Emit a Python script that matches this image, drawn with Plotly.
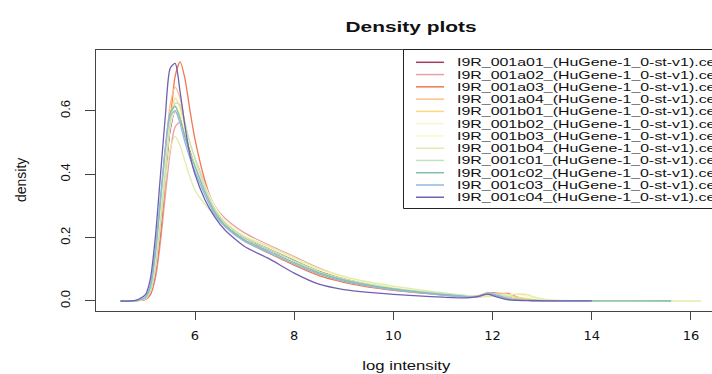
import plotly.graph_objects as go

# ---------------- data ----------------
x_grid = [4.5, 4.8, 5.0, 5.1, 5.2, 5.3, 5.4, 5.5, 5.6, 5.7, 5.8, 5.9, 6.0, 6.2, 6.4, 6.6,
          7.0, 7.5, 8.0, 8.5, 9.0, 9.5, 10.0, 10.5, 11.0, 11.5, 11.7, 11.9, 12.1, 12.3,
          12.5, 12.7, 12.9, 13.2, 14.0, 14.5, 15.0, 15.6, 16.2]

sample_names = [
    "I9R_001a01_(HuGene-1_0-st-v1).cel", "I9R_001a02_(HuGene-1_0-st-v1).cel",
    "I9R_001a03_(HuGene-1_0-st-v1).cel", "I9R_001a04_(HuGene-1_0-st-v1).cel",
    "I9R_001b01_(HuGene-1_0-st-v1).cel", "I9R_001b02_(HuGene-1_0-st-v1).cel",
    "I9R_001b03_(HuGene-1_0-st-v1).cel", "I9R_001b04_(HuGene-1_0-st-v1).cel",
    "I9R_001c01_(HuGene-1_0-st-v1).cel", "I9R_001c02_(HuGene-1_0-st-v1).cel",
    "I9R_001c03_(HuGene-1_0-st-v1).cel", "I9R_001c04_(HuGene-1_0-st-v1).cel",
]

N = None
d_a01 = [0, 0.001, 0.008, 0.03, 0.10, 0.24, 0.41, 0.54, 0.60, 0.585, 0.53, 0.48, 0.44, 0.36, 0.29, 0.25,
         0.20, 0.163, 0.128, 0.095, 0.07, 0.053, 0.04, 0.031, 0.023, 0.016, 0.015, 0.024, 0.024, 0.012,
         0.005, 0.003, 0.002, 0.001, 0.0003, 0.0001, 0, N, N]
d_a02 = [0, 0.0005, 0.005, 0.02, 0.07, 0.18, 0.33, 0.47, 0.55, 0.565, 0.53, 0.49, 0.45, 0.37, 0.30, 0.262,
         0.215, 0.176, 0.14, 0.104, 0.076, 0.056, 0.042, 0.032, 0.024, 0.017, 0.016, 0.026, 0.022, 0.010,
         0.005, 0.003, 0.002, 0.001, 0.0003, 0.0001, 0, N, N]
d_a03 = [0, 0.0005, 0.005, 0.02, 0.08, 0.20, 0.37, 0.56, 0.71, 0.755, 0.70, 0.60, 0.51, 0.38, 0.29, 0.242,
         0.19, 0.15, 0.113, 0.08, 0.059, 0.044, 0.034, 0.026, 0.019, 0.013, 0.012, 0.016, 0.022, 0.024,
         0.012, 0.004, 0.002, 0.001, 0.0003, 0, N, N, N]
d_a04 = [0, 0.001, 0.010, 0.04, 0.13, 0.29, 0.47, 0.62, 0.675, 0.64, 0.56, 0.49, 0.44, 0.355, 0.285, 0.24,
         0.19, 0.152, 0.117, 0.085, 0.063, 0.047, 0.036, 0.028, 0.020, 0.014, 0.013, 0.020, 0.025, 0.022,
         0.010, 0.004, 0.002, 0.001, 0.0003, 0, N, N, N]
d_b01 = [0, 0.001, 0.009, 0.035, 0.12, 0.27, 0.44, 0.58, 0.64, 0.61, 0.545, 0.49, 0.445, 0.365, 0.295, 0.252,
         0.205, 0.17, 0.133, 0.098, 0.074, 0.056, 0.043, 0.033, 0.024, 0.016, 0.014, 0.018, 0.020, 0.016,
         0.012, 0.008, 0.004, 0.002, 0.0005, 0.0002, 0, N, N]
d_b02 = [0, 0.001, 0.008, 0.032, 0.11, 0.255, 0.42, 0.56, 0.615, 0.595, 0.54, 0.49, 0.445, 0.365, 0.298, 0.255,
         0.208, 0.172, 0.136, 0.100, 0.076, 0.058, 0.045, 0.034, 0.025, 0.016, 0.013, 0.015, 0.018, 0.020,
         0.021, 0.015, 0.006, 0.002, 0.0005, 0.0002, 0, N, N]
d_b03 = [0, 0.001, 0.008, 0.03, 0.105, 0.245, 0.41, 0.55, 0.60, 0.585, 0.535, 0.485, 0.44, 0.36, 0.295, 0.253,
         0.206, 0.17, 0.134, 0.099, 0.075, 0.057, 0.044, 0.034, 0.025, 0.016, 0.013, 0.014, 0.016, 0.019,
         0.022, 0.020, 0.008, 0.003, 0.0005, 0.0002, 0.0001, N, N]
d_b04 = [0, 0.001, 0.010, 0.035, 0.11, 0.24, 0.38, 0.48, 0.52, 0.49, 0.44, 0.39, 0.35, 0.305, 0.27, 0.245,
         0.203, 0.172, 0.137, 0.102, 0.078, 0.060, 0.047, 0.036, 0.026, 0.017, 0.014, 0.014, 0.016, 0.019,
         0.022, 0.020, 0.010, 0.003, 0.0008, 0.0003, 0.0001, 0.00005, 0]
d_c01 = [0, 0.001, 0.008, 0.03, 0.10, 0.24, 0.41, 0.56, 0.625, 0.62, 0.56, 0.50, 0.45, 0.36, 0.29, 0.248,
         0.20, 0.163, 0.127, 0.093, 0.070, 0.053, 0.040, 0.031, 0.023, 0.015, 0.014, 0.022, 0.022, 0.012,
         0.005, 0.003, 0.002, 0.001, 0.0003, 0.0001, 0.00005, 0.00002, N]
d_c02 = [0, 0.001, 0.012, 0.045, 0.15, 0.31, 0.48, 0.595, 0.615, 0.575, 0.515, 0.465, 0.425, 0.345, 0.28, 0.24,
         0.193, 0.157, 0.121, 0.089, 0.066, 0.050, 0.038, 0.029, 0.021, 0.014, 0.014, 0.024, 0.018, 0.008,
         0.004, 0.002, 0.0015, 0.001, 0.0004, 0.0002, 0.0001, 0.00005, N]
d_c03 = [0, 0.001, 0.013, 0.05, 0.16, 0.32, 0.48, 0.585, 0.60, 0.56, 0.50, 0.45, 0.41, 0.335, 0.273, 0.235,
         0.188, 0.152, 0.116, 0.085, 0.062, 0.047, 0.035, 0.027, 0.019, 0.013, 0.014, 0.024, 0.016, 0.006,
         0.003, 0.002, 0.0012, 0.0008, 0.0003, N, N, N, N]
d_c04 = [0, 0.002, 0.02, 0.07, 0.20, 0.39, 0.58, 0.735, 0.75, 0.66, 0.55, 0.46, 0.40, 0.32, 0.265, 0.225,
         0.172, 0.133, 0.088, 0.053, 0.036, 0.027, 0.021, 0.016, 0.012, 0.010, 0.014, 0.022, 0.012, 0.004,
         0.002, 0.001, 0.0007, 0.0005, 0.0002, N, N, N, N]

densities = [d_a01, d_a02, d_a03, d_a04, d_b01, d_b02, d_b03, d_b04, d_c01, d_c02, d_c03, d_c04]

line_colors = ["#A0405E", "#E8A0A8", "#F07850", "#FDC08A", "#FDD880", "#FBF5C8",
               "#F8FCC8", "#E2EBAE", "#C2E3BD", "#80C0A8", "#90B8E0", "#7060B0"]

x_ticks = [6, 8, 10, 12, 14, 16]
y_ticks = [0.0, 0.2, 0.4, 0.6]
y_tick_text = ["0.0", "0.2", "0.4", "0.6"]

# ---------------- figure ----------------
W, H = 712, 374
L, R, T, B = 96, 0, 50, 63
PW, PH = W - L - R, H - T - B


def px(xp):
    return (xp - L) / PW


def py(yp):
    return (H - B - yp) / PH


fig = go.Figure()
for name, ys, col in zip(sample_names, densities, line_colors):
    fig.add_trace(go.Scatter(
        x=x_grid, y=ys, mode="lines", name=name, showlegend=False,
        line=dict(color=col, width=1.3, shape="spline", smoothing=0.7),
        connectgaps=False, hoverinfo="skip"))

FONT = "Liberation Sans"

shapes = [dict(type="rect", xref="paper", yref="paper",
               x0=px(403.5), x1=px(740), y0=py(49.5), y1=py(208.5),
               line=dict(color="#222", width=1), fillcolor="white", layer="above")]
annotations = []
for i, (name, col) in enumerate(zip(sample_names, line_colors)):
    yy = 62.3 + i * 12.27
    shapes.append(dict(type="line", xref="paper", yref="paper",
                       x0=px(416), x1=px(444), y0=py(yy), y1=py(yy),
                       line=dict(color=col, width=1.5), layer="above"))
    annotations.append(dict(text=name, xref="paper", yref="paper",
                            x=px(456), y=py(yy), xanchor="left", yanchor="middle",
                            align="left", showarrow=False, borderpad=0,
                            font=dict(family=FONT, size=10.5, color="#111")))

annotations.append(dict(text="log intensity", xref="paper", yref="paper",
                        x=px(406), y=py(365), xanchor="center", yanchor="middle",
                        showarrow=False, font=dict(family=FONT, size=13, color="#111")))
annotations.append(dict(text="density", xref="paper", yref="paper",
                        x=px(21), y=py(180), xanchor="center", yanchor="middle",
                        textangle=-90, showarrow=False,
                        font=dict(family=FONT, size=14, color="#111")))

fig.update_layout(
    width=W, height=H,
    margin=dict(l=L, r=R, t=T, b=B, pad=0),
    paper_bgcolor="white", plot_bgcolor="white",
    title=dict(text="<b>Density plots</b>", x=411 / W, xanchor="center",
               y=1 - 27 / H, yanchor="middle",
               font=dict(family=FONT, size=15, color="#111")),
    shapes=shapes, annotations=annotations,
    xaxis=dict(range=[4.004, 16.424], tickvals=x_ticks, ticks="outside", ticklen=8,
               tickcolor="#444", showline=True, linecolor="#444", linewidth=1, mirror=True,
               showgrid=False, zeroline=False, automargin=False, ticklabelstandoff=4,
               tickfont=dict(family="DejaVu Sans", size=13, color="#111")),
    yaxis=dict(range=[-0.0316, 0.7926], tickvals=y_ticks, ticktext=y_tick_text,
               tickangle=-90, ticks="outside", ticklen=10, tickcolor="#444",
               showline=True, linecolor="#444", linewidth=1, mirror=False,
               showgrid=False, zeroline=False, automargin=False, ticklabelstandoff=10,
               tickfont=dict(family=FONT, size=13, color="#111")),
)

# The reference text is rendered horizontally wide; stretch the real SVG text to the
# widths measured on the reference (text stays text).
post_js = """
(function(){
  var gd = document.getElementById('{plot_id}');
  function stretch(){
    gd.querySelectorAll('text.annotation-text').forEach(function(t){
      var s = t.textContent || '';
      var len = null;
      if (s.indexOf('I9R_') === 0) len = 262;
      else if (s === 'log intensity') len = 88;
      if (len) { t.setAttribute('textLength', len); t.setAttribute('lengthAdjust', 'spacingAndGlyphs'); }
    });
    var g = gd.querySelector('text.gtitle');
    if (g) { g.setAttribute('textLength', 131); g.setAttribute('lengthAdjust', 'spacingAndGlyphs'); }
  }
  stretch();
  if (gd.on) gd.on('plotly_afterplot', stretch);
  setTimeout(stretch, 0);
})();
"""

fig.write_html("out.html", post_script=post_js)
